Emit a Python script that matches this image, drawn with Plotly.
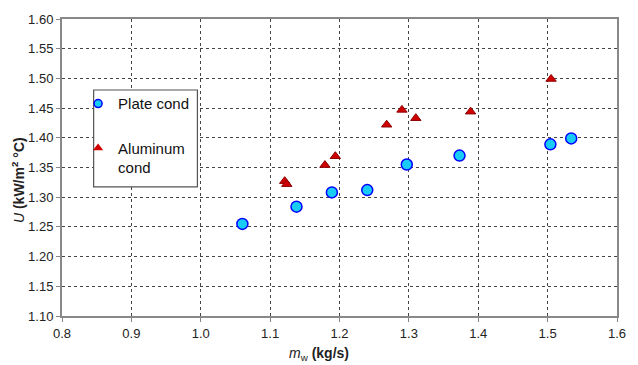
import plotly.graph_objects as go

plate_x = [1.060, 1.138, 1.189, 1.240, 1.297, 1.373, 1.504, 1.534]
plate_y = [1.255, 1.284, 1.308, 1.312, 1.355, 1.370, 1.389, 1.399]

alu_x = [1.121, 1.124, 1.179, 1.194, 1.268, 1.290, 1.310, 1.389, 1.505]
alu_y = [1.327, 1.322, 1.354, 1.369, 1.422, 1.447, 1.433, 1.444, 1.499]

x_ticks = [0.8, 0.9, 1.0, 1.1, 1.2, 1.3, 1.4, 1.5, 1.6]
y_ticks = [1.10, 1.15, 1.20, 1.25, 1.30, 1.35, 1.40, 1.45, 1.50, 1.55, 1.60]

FONT = "Liberation Sans, Arial, sans-serif"

plate_marker = dict(symbol="circle", color="#19CCF5",
                    line=dict(color="#0000FF", width=1.5))
alu_marker = dict(symbol="triangle-up", color="#D00000",
                  line=dict(color="#8B0000", width=1))

fig = go.Figure()
fig.add_trace(go.Scatter(
    x=plate_x, y=plate_y, mode="markers", name="Plate cond",
    showlegend=False, marker=dict(plate_marker, size=11),
))
fig.add_trace(go.Scatter(
    x=alu_x, y=alu_y, mode="markers", name="Aluminum cond",
    showlegend=False, marker=dict(alu_marker, size=9),
))
# legend entries (smaller legend symbols as in the reference)
fig.add_trace(go.Scatter(
    x=[None], y=[None], mode="markers", name="Plate cond",
    legendgroup="a", marker=dict(plate_marker, size=8),
))
fig.add_trace(go.Scatter(
    x=[None], y=[None], mode="markers", name="Aluminum<br>cond",
    legendgroup="b", marker=dict(alu_marker, size=9, line=dict(width=0)),
))

axis_common = dict(
    showline=True, linecolor="#888888", linewidth=2, mirror=True,
    showgrid=True, gridcolor="#444444", griddash="dot", gridwidth=1,
    ticks="outside", ticklen=4, tickcolor="#888888",
    tickfont=dict(family=FONT, size=13, color="#222222"),
    zeroline=False,
)

fig.update_layout(
    width=638, height=365,
    margin=dict(l=62, r=18, t=15, b=49),
    paper_bgcolor="white", plot_bgcolor="white",
    font=dict(family=FONT, size=13, color="#222222"),
    xaxis=dict(axis_common, range=[0.8, 1.6], tickvals=x_ticks,
               ticktext=[f"{v:.1f}" for v in x_ticks]),
    yaxis=dict(axis_common, range=[1.10, 1.60], tickvals=y_ticks,
               ticktext=[f"{v:.2f}" for v in y_ticks]),
    showlegend=True,
    legend=dict(x=0.029, y=0.77, xanchor="left", yanchor="top",
                bgcolor="rgba(0,0,0,0)", borderwidth=0,
                tracegroupgap=22, traceorder="grouped", valign="top",
                font=dict(family=FONT, size=15, color="#111111"),
                itemwidth=30),
    shapes=[dict(type="rect", xref="paper", yref="paper",
                 x0=0.057, x1=0.244, y0=0.435, y1=0.761,
                 line=dict(color="#555555", width=1.2),
                 fillcolor="white", layer="above")],
    annotations=[
        dict(text="<i>m</i><sub>w</sub> <b>(kg/s)</b>", xref="paper", yref="paper",
             x=(320 - 62) / 558, y=-(355 - 316) / 301, xanchor="center", yanchor="middle",
             showarrow=False, font=dict(family=FONT, size=14, color="#222222")),
        dict(text="<i>U</i> <b>(kW/m<sup>2</sup> °C)</b>", xref="paper", yref="paper",
             x=(18 - 62) / 558, y=1 - (178 - 15) / 301, xanchor="center", yanchor="middle",
             textangle=-90, showarrow=False,
             font=dict(family=FONT, size=14, color="#222222")),
    ],
)

fig.write_html("out.html")
